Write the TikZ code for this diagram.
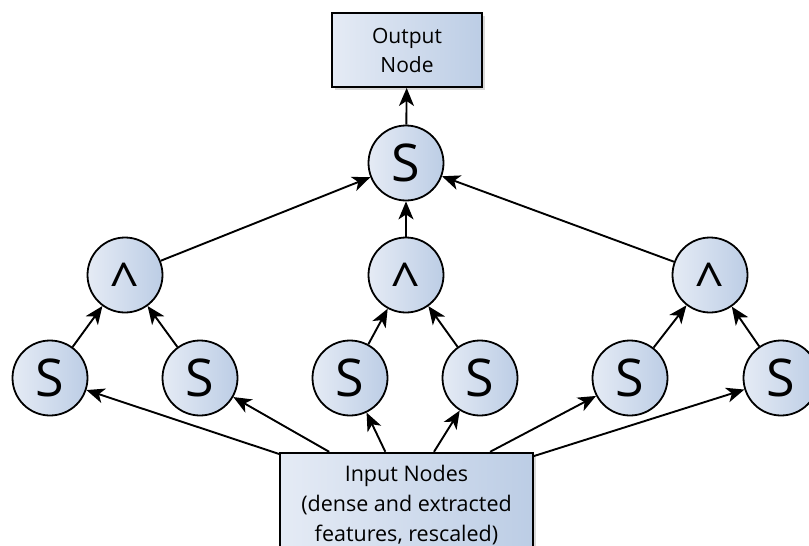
\documentclass[tikz,border=0pt]{standalone}
\usepackage{fontspec}
\setmainfont{Open Sans}
\usetikzlibrary{arrows.meta,shadows}
\definecolor{gl}{RGB}{229,235,245}
\definecolor{gr}{RGB}{188,205,229}
\tikzset{
  boxnode/.style={draw=black, line width=1.9pt, left color=gl, right color=gr,
    align=center, drop shadow={shadow xshift=2.5pt, shadow yshift=-3pt, opacity=0.3}},
  opnode/.style={circle, draw=black, line width=1.8pt, left color=gl, right color=gr,
    minimum size=75pt, inner sep=0pt, font=\fontsize{52}{52}\selectfont},
  caretnode/.style={opnode, text height=50pt, text depth=0pt},
  hubnode/.style={minimum width=253pt, minimum height=88pt, inner sep=0pt},
  arr/.style={-{Stealth[length=18pt,width=15pt,inset=5pt]}, line width=1.9pt},
}
\begin{document}
\begin{tikzpicture}[x=1pt,y=1pt]
\useasboundingbox (0,0) rectangle (809,-546);
% nodes
\node[boxnode, minimum width=150pt, minimum height=74pt, font=\fontsize{21}{29}\selectfont] (out) at (407,-50) {Output\\Node};
\node[opnode] (t) at (406,-163) {S};
\node[caretnode] (a1) at (125,-275) {\textasciicircum};
\node[caretnode] (a2) at (406,-275) {\textasciicircum};
\node[caretnode] (a3) at (710,-275) {\textasciicircum};
\node[opnode] (s1) at (50,-378) {S};
\node[opnode] (s2) at (200,-378) {S};
\node[opnode] (s3) at (350,-378) {S};
\node[opnode] (s4) at (480,-378) {S};
\node[opnode] (s5) at (630,-378) {S};
\node[opnode] (s6) at (781,-378) {S};
\node[boxnode, anchor=north, minimum width=253pt, inner ysep=12pt, font=\fontsize{21.5}{30}\selectfont] (in) at (406.5,-452) {Input Nodes\\(dense and extracted\\features, rescaled)};
\node[hubnode] (inhub) at (406.5,-496) {};
% connectors
\draw[arr] (t) -- (out);
\draw[arr] (a1) -- (t);
\draw[arr] (a2) -- (t);
\draw[arr] (a3) -- (t);
\draw[arr] (s1) -- (a1);
\draw[arr] (s2) -- (a1);
\draw[arr] (s3) -- (a2);
\draw[arr] (s4) -- (a2);
\draw[arr] (s5) -- (a3);
\draw[arr] (s6) -- (a3);
\foreach \k in {s1,s2,s3,s4,s5,s6} \draw[arr] (inhub) -- (\k);
\end{tikzpicture}
\end{document}
